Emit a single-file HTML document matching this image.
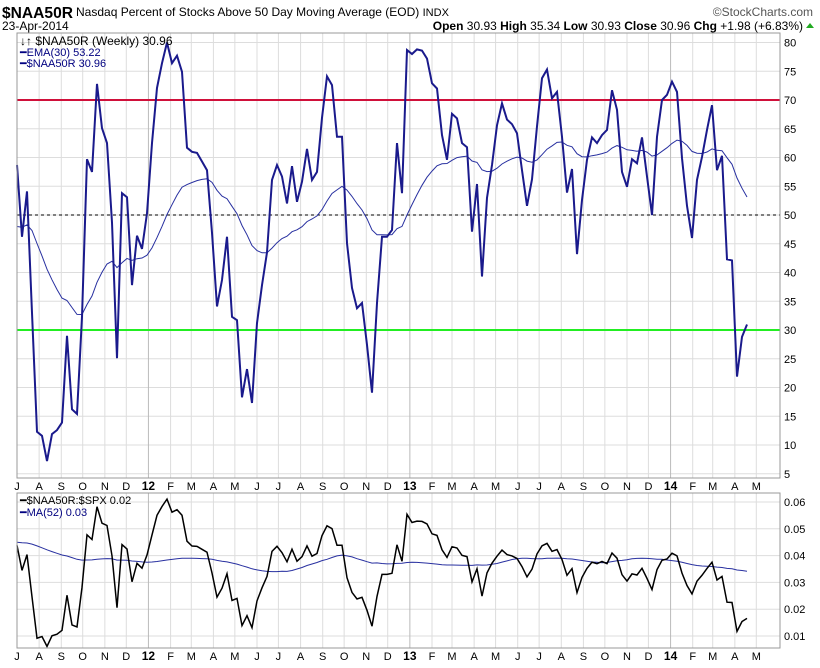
<!DOCTYPE html>
<html><head><meta charset="utf-8"><style>
html,body{margin:0;padding:0;background:#fff;}
svg{display:block;font-family:"Liberation Sans",Arial,sans-serif;}
</style></head><body>
<svg id="c" width="820" height="668" viewBox="0 0 820 668">
<text x="2" y="18" font-size="16" font-weight="bold" textLength="71" lengthAdjust="spacingAndGlyphs">$NAA50R</text>
<text x="76" y="16" font-size="12">Nasdaq Percent of Stocks Above 50 Day Moving Average (EOD) <tspan font-size="11">INDX</tspan></text>
<text x="2" y="30" font-size="12">23-Apr-2014</text>
<text x="813" y="16" font-size="12" fill="#555" text-anchor="end">©StockCharts.com</text>
<text x="803" y="30" font-size="12" text-anchor="end"><tspan font-weight="bold">Open</tspan> 30.93 <tspan font-weight="bold">High</tspan> 35.34 <tspan font-weight="bold">Low</tspan> 30.93 <tspan font-weight="bold">Close</tspan> 30.96 <tspan font-weight="bold">Chg</tspan> +1.98 (+6.83%)</text>
<polygon points="806,28 814,28 810,23" fill="#2a2"/>
<g id="grid"></g>
<g id="marks"></g>
<rect x="17" y="33" width="763" height="445" fill="none" stroke="#999"/>
<rect x="17" y="493" width="763" height="155" fill="none" stroke="#999"/>
<text x="20" y="45" font-size="12">↓↑ $NAA50R (Weekly) 30.96</text>
<text x="20" y="56" font-size="11" fill="#000080">━EMA(30) 53.22</text>
<text x="20" y="67" font-size="11" fill="#000080">━$NAA50R 30.96</text>
<text x="20" y="504" font-size="11">━$NAA50R:$SPX 0.02</text>
<text x="20" y="516" font-size="11" fill="#000080">━MA(52) 0.03</text>
</svg>
<script>
const closes=[58.7,46.2,54.1,33,12.3,11.6,7.2,11.9,12.6,13.9,29,16.2,15.4,32.3,59.7,57.5,72.8,65.1,62.5,48.7,25.1,53.8,53.1,37.8,46.4,44.1,50.3,62.5,72.1,76.4,80,76.4,77.7,74.9,61.7,61,60.8,59.3,57.8,46.9,34.1,38.7,46.2,32.3,31.7,18.3,23.2,17.3,31.2,37.8,43.5,56.1,58.7,56.7,52,58.5,52.3,55.8,61.5,56.1,57.5,66.9,74.1,72.6,63.6,63.6,45.1,37.3,33.8,34.7,27.4,19.1,34.7,46.2,46.2,47.4,62.5,53.8,78.7,78,78.8,78.6,77.2,72.9,72,63.9,59.6,67.6,66.8,62.5,61.8,47.1,55.4,39.3,53,58.7,65.6,69.4,66.6,65.8,64.2,57.8,51.6,56.2,65.4,73.8,75.3,70.3,71.4,63.6,53.9,58,43.2,52.6,59.6,63.5,62.5,63.9,64.8,71.7,68.3,57.5,54.9,59.7,59,63.5,56.7,50,63.6,70,70.9,73.2,71.4,59.9,51.6,46,56.1,60.1,64.8,69.1,57.8,60.3,42.3,42.1,21.9,28.8,30.96];
const spxMonthly=[1340,1180,1150,1250,1220,1250,1310,1360,1400,1390,1320,1350,1380,1410,1450,1420,1400,1420,1490,1515,1560,1580,1650,1610,1690,1650,1690,1750,1800,1830,1790,1840,1870,1870];
const monthLabels=["J","A","S","O","N","D","12","F","M","A","M","J","J","A","S","O","N","D","13","F","M","A","M","J","J","A","S","O","N","D","14","F","M","A","M"];
const priceTicks=[5,10,15,20,25,30,35,40,45,50,55,60,65,70,75,80];
const ratioTicks=[0.01,0.02,0.03,0.04,0.05,0.06];
const refLines=[{v:70,c:"#d0103a",w:2,n:"overbought-line"},{v:30,c:"#22ee22",w:2,n:"oversold-line"},{v:50,c:"#000",w:1,d:"3,3",n:"midline-50"}];

const NS="http://www.w3.org/2000/svg";
const X0=17,STEP=5;
const xi=i=>X0+i*STEP;
const yP=v=>42.5+(80-v)*5.75;
const yR=r=>502+(0.06-r)*2680;
const start=Date.UTC(2011,6,1);
const xDate=d=>X0+(d-start)/86400000/7*STEP;
const grid=document.getElementById('grid'),marks=document.getElementById('marks');
function mk(tag,attrs,parent){const e=document.createElementNS(NS,tag);for(const k in attrs)e.setAttribute(k,attrs[k]);parent.appendChild(e);return e;}

priceTicks.forEach(v=>{
  const g=mk('line',{x1:17,x2:780,y1:yP(v),y2:yP(v),stroke:'#ddd'},grid);
  
  
  const t=mk('text',{x:784,y:yP(v)+4,'font-size':11},grid);
  t.textContent=v;
  
  
});
ratioTicks.forEach(v=>{
  const g=mk('line',{x1:17,x2:780,y1:yR(v),y2:yR(v),stroke:'#ddd'},grid);
  
  
  const t=mk('text',{x:784,y:yR(v)+4,'font-size':11},grid);
  t.textContent=v.toFixed(2);
  
  
});
monthLabels.forEach((m,k)=>{
  const d=Date.UTC(2011,6+k,1);const x=xDate(d);
  if(x>780)return;
  const yr=m.length>1;
  [[33,478],[493,648]].forEach(([a,b])=>{
    const g=mk('line',{x1:x,x2:x,y1:a,y2:b,stroke:yr?'#bbb':'#ddd'},grid);
    
    
  });
  [490,660].forEach(yy=>{
    const t=mk('text',{x:x,y:yy,'font-size':yr?12:11,'font-weight':yr?'bold':'normal','text-anchor':'middle'},grid);
    t.textContent=m;
    
    
  });
});
refLines.forEach(r=>{
  const l=mk('line',{x1:17,x2:780,y1:yP(r.v),y2:yP(r.v),stroke:r.c,'stroke-width':r.w},marks);
  if(r.d)l.setAttribute('stroke-dasharray',r.d);
  
  
});
const ema=[];let e=48;const a=2/31;
closes.forEach((c,i)=>{e=i===0?48:e+a*(c-e);ema.push(e);});
const emaP=mk('polyline',{points:ema.map((v,i)=>xi(i)+','+yP(v).toFixed(1)).join(' '),fill:'none',stroke:'#2830a0','stroke-width':1},marks);


const cl=mk('polyline',{points:closes.map((v,i)=>xi(i)+','+yP(v).toFixed(1)).join(' '),fill:'none',stroke:'#1a1a8c','stroke-width':2},marks);


const ratio=closes.map((c,i)=>{const d=new Date(start+i*7*86400000);const mi=(d.getUTCFullYear()-2011)*12+d.getUTCMonth()-6;return c/spxMonthly[Math.min(mi,spxMonthly.length-1)];});
const ma=ratio.map((r,i)=>{const s=Math.max(0,i-51);let sum=0;for(let j=s;j<=i;j++)sum+=ratio[j];const n=i-s+1;return (sum+(52-n)*0.045)/52;});
const maP=mk('polyline',{points:ma.map((v,i)=>xi(i)+','+yR(v).toFixed(1)).join(' '),fill:'none',stroke:'#2830a0','stroke-width':1},marks);


const rP=mk('polyline',{points:ratio.map((v,i)=>xi(i)+','+yR(v).toFixed(1)).join(' '),fill:'none',stroke:'#000','stroke-width':1.5},marks);


</script>
</body></html>
